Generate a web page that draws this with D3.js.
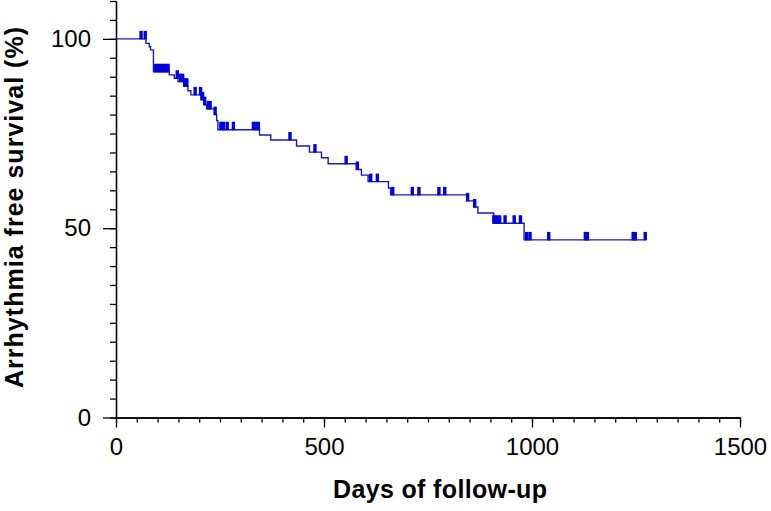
<!DOCTYPE html>
<html>
<head>
<meta charset="utf-8">
<script src="https://cdn.jsdelivr.net/npm/d3@7/dist/d3.min.js"></script>
<style>
  html, body { margin: 0; padding: 0; background: #fff; }
  svg { display: block; }
  text { font-family: "Liberation Sans", Arial, Helvetica, sans-serif; }
</style>
</head>
<body>
<svg id="chart" width="771" height="511"></svg>
<script>
// Kaplan-Meier step data (days, survival % after the event)
const eventDays   = [0, 72, 80, 83, 90, 128, 140, 149, 163, 173, 180, 204, 212, 218, 238, 242, 245,
                     345, 372, 434, 465, 494, 510, 578, 590, 606, 655, 660, 843, 860, 870, 908, 981];
const survivalPct = [100, 98.8, 97.9, 97.1, 91.3, 90.5, 89.6, 88.7, 87.5, 86.3, 85.2, 83.9, 82.6, 81.5, 80.0, 78.4, 76.0,
                     74.6, 73.3, 71.7, 70.1, 68.6, 67.0, 65.5, 64.0, 62.3, 60.6, 58.8, 57.2, 55.6, 54.0, 51.3, 46.9];
// censored observations (days)
const censorDays  = [60, 70, 95, 100, 105, 110, 115, 120, 125, 147, 155, 160, 165, 170, 190, 203, 208, 213,
                     222, 226, 238, 252, 258, 267, 282, 330, 336, 342, 418, 478, 553, 580, 612, 628, 665,
                     712, 728, 776, 790, 845, 862, 908, 915, 922, 935, 957, 972, 987, 995, 1040, 1128, 1133,
                     1243, 1248, 1272];
const endDay = 1272;
const xMajorTicks = [0, 500, 1000, 1500];
const yMajorTicks = [0, 50, 100];
const xTitle = "Days of follow-up";
const yTitle = "Arrhythmia free survival (%)";

const svg = d3.select("#chart");
const x = d3.scaleLinear().domain([0, 1500]).range([116, 740]);
const y = d3.scaleLinear().domain([0, 110]).range([417.5, 1]);

const xMinor = d3.range(0, 1501, 50);
const yMinor = d3.range(0, 111, 5);
const fmt = d3.format("d");

function styleAxis(g) {
  g.select(".domain").attr("stroke", "#000").attr("stroke-width", 1.3);
  g.selectAll(".tick line").attr("stroke", "#000").attr("stroke-width", 1.3);
}
const gxMinor = svg.append("g").attr("transform", `translate(0,${y(0)})`)
  .call(d3.axisBottom(x).tickValues(xMinor).tickSize(5).tickSizeOuter(0).tickFormat(""));
styleAxis(gxMinor);
const gx = svg.append("g").attr("transform", `translate(0,${y(0)})`)
  .call(d3.axisBottom(x).tickValues(xMajorTicks).tickSize(10).tickSizeOuter(0).tickPadding(10).tickFormat(fmt));
styleAxis(gx);
gx.selectAll(".tick text").attr("font-size", 24).attr("fill", "#000")
  .attr("font-family", "'Liberation Sans', Arial, sans-serif");

const gyMinor = svg.append("g").attr("transform", `translate(${x(0)},0)`)
  .call(d3.axisLeft(y).tickValues(yMinor).tickSize(6).tickSizeOuter(0).tickFormat(""));
styleAxis(gyMinor);
const gy = svg.append("g").attr("transform", `translate(${x(0)},0)`)
  .call(d3.axisLeft(y).tickValues(yMajorTicks).tickSize(13).tickSizeOuter(0).tickPadding(12).tickFormat(fmt));
styleAxis(gy);
gy.selectAll(".tick text").attr("font-size", 24).attr("fill", "#000")
  .attr("font-family", "'Liberation Sans', Arial, sans-serif");

// KM curve
const pts = eventDays.map((d, i) => [d, survivalPct[i]]);
pts.push([endDay, survivalPct[survivalPct.length - 1]]);
const line = d3.line().x(d => x(d[0])).y(d => y(d[1])).curve(d3.curveStepAfter);
svg.append("path").datum(pts).attr("d", line)
  .attr("fill", "none").attr("stroke", "#1a1ab4").attr("stroke-width", 1.4);

function survAt(t) {
  let s = 100;
  for (let i = 0; i < eventDays.length; i++) if (eventDays[i] <= t) s = survivalPct[i];
  return s;
}
svg.append("g").selectAll("rect").data(censorDays).join("rect")
  .attr("x", d => x(d) - 1.6)
  .attr("y", d => y(survAt(d)) - 8)
  .attr("width", 3.4)
  .attr("height", 8.5)
  .attr("fill", "#0000dd");

// titles
svg.append("text").attr("x", 440).attr("y", 498).attr("text-anchor", "middle")
  .attr("font-size", 25).attr("font-weight", "bold").attr("fill", "#000")
  .attr("textLength", 214).attr("lengthAdjust", "spacing").text(xTitle);
svg.append("text").attr("transform", "translate(23,207.5) rotate(-90)").attr("text-anchor", "middle")
  .attr("font-size", 25).attr("font-weight", "bold").attr("fill", "#000")
  .attr("textLength", 361).attr("lengthAdjust", "spacing").text(yTitle);
</script>
</body>
</html>
